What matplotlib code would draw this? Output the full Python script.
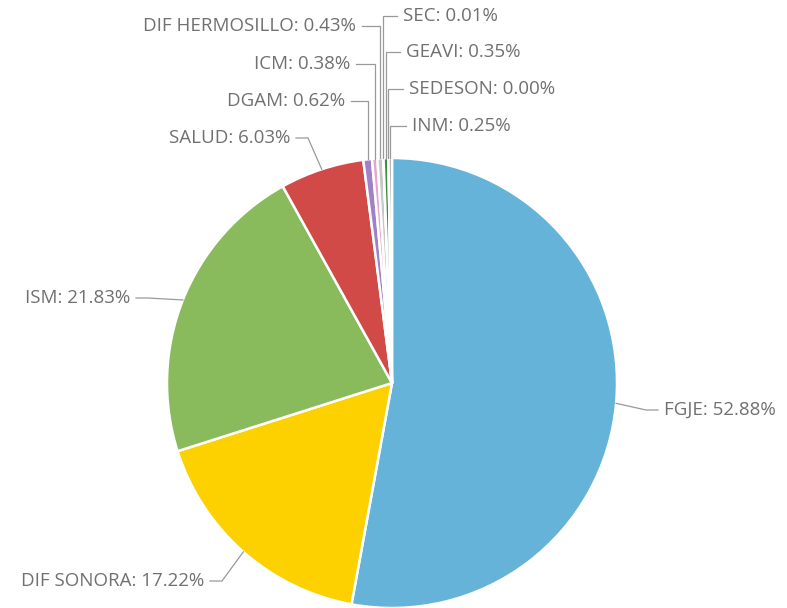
import numpy as np
import matplotlib
matplotlib.use("Agg")
import matplotlib.pyplot as plt

labels = ["FGJE", "DIF SONORA", "ISM", "SALUD", "DGAM", "ICM",
          "DIF HERMOSILLO", "SEC", "GEAVI", "SEDESON", "INM"]
values = [52.88, 17.22, 21.83, 6.03, 0.62, 0.38, 0.43, 0.01, 0.35, 0.00, 0.25]
colors = ["#66b3da", "#fdd100", "#89bb5c", "#d14a48", "#9f82c5", "#e2a6cf",
          "#c8c8c8", "#7f7f7f", "#3e8e3e", "#bbbbbb", "#a0a0a0"]

# label layout in pixel coordinates: (text x, text y, side)
label_pos = [
    (664, 410, "L"),
    (204, 581, "R"),
    (130, 298, "R"),
    (290, 138, "R"),
    (345, 101, "R"),
    (350, 64, "R"),
    (356, 26, "R"),
    (403, 16, "L"),
    (406, 52, "L"),
    (409, 89, "L"),
    (412, 126, "L"),
]

W, H = 787, 608
fig = plt.figure(figsize=(W / 100, H / 100), dpi=100)
ax = fig.add_axes([0, 0, 1, 1])
ax.set_xlim(0, W)
ax.set_ylim(0, H)
ax.set_aspect("equal")
ax.axis("off")

cx, cy_pix, R = 392, 383, 225
cy = H - cy_pix

wedges, _ = ax.pie(values, colors=colors, startangle=90, counterclock=False,
                   center=(cx, cy), radius=R, normalize=True,
                   wedgeprops=dict(edgecolor="white", linewidth=1.8))
ax.set_xlim(0, W)
ax.set_ylim(0, H)

total = sum(values)
start = 90.0
for lab, v, (tx, ty, side) in zip(labels, values, label_pos):
    ang = start - v / total * 360 / 2
    start -= v / total * 360
    a = np.deg2rad(ang)
    ex, ey = cx + R * np.cos(a), cy + R * np.sin(a)
    ty_d = H - ty
    if side == "R":
        hx = tx + 6
        bend = hx + 12
    else:
        hx = tx - 6
        bend = hx - 12
    if v < 1.5:
        pts = [(ex, ey), (ex, ty_d), (hx, ty_d)]
    else:
        pts = [(ex, ey), (bend, ty_d), (hx, ty_d)]
    xs, ys = zip(*pts)
    ax.plot(xs, ys, color="#999999", lw=0.9, solid_joinstyle="miter")
    ax.text(tx, ty_d, f"{lab}: {v:.2f}%", ha="left" if side == "L" else "right",
            va="center", fontsize=13.5, color="#707070", family=["Open Sans", "DejaVu Sans"])

fig.savefig("out.png", dpi=100)
